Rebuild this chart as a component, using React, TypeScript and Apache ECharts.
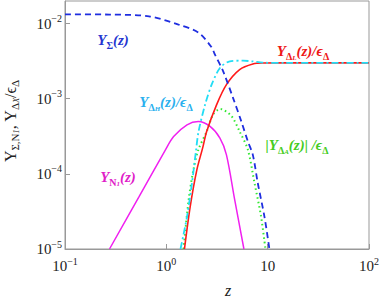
import React, { useEffect, useRef } from "react";
import * as echarts from "echarts";

// ---- data ----
const zSigma = [0.1, 0.275, 0.675, 1.32, 2.07, 2.78, 3.02, 3.64, 4.56, 5.5, 6.38, 7.14, 7.98, 9.29, 10.4];
const ySigma = [0.0133, 0.0132, 0.0125, 0.0097, 0.0076, 0.0049, 0.00386, 0.00231, 0.00102, 0.000497, 0.00027, 0.000179, 0.000076, 0.000027, 0.00001];

const zDeltaL = [1.51, 1.72, 2.0, 2.28, 2.5, 3.13, 3.92, 5.29, 7.14, 8.94, 15, 100];
const yDeltaL = [0.00001, 0.0000366, 0.000113, 0.00022, 0.000366, 0.00083, 0.00154, 0.00244, 0.0029, 0.00299, 0.003, 0.003];

const zDeltaH = [1.38, 1.6, 1.79, 1.95, 2.08, 2.41, 2.8, 3.38, 4.23, 5.7, 7.14, 8.94, 15, 100];
const yDeltaH = [0.00001, 0.000027, 0.000075, 0.00019, 0.000366, 0.00083, 0.00154, 0.00257, 0.00314, 0.00321, 0.00314, 0.00302, 0.003, 0.003];

const zDeltaA = [1.48, 1.66, 1.85, 2.07, 2.5, 2.9, 3.4, 4.38, 5.29, 6.38, 7.41, 8.61, 9.5];
const yDeltaA = [0.00001, 0.000045, 0.000113, 0.000209, 0.000366, 0.00062, 0.00073, 0.00059, 0.000366, 0.000209, 0.000076, 0.000027, 0.00001];

const zN1 = [0.275, 0.54, 0.98, 1.18, 1.6, 2.07, 2.7, 3.38, 3.92, 4.73, 5.83];
const yN1 = [0.00001, 0.00005, 0.000209, 0.000314, 0.00045, 0.000497, 0.000428, 0.000299, 0.000179, 0.000045, 0.00001];

const xMin = 0.1;
const xMax = 100;
const yMin = 0.00001;
const yMax = 0.02;

const zip = (a: number[], b: number[]) => a.map((v, i) => [v, b[i]]);

const SERIF = '"Liberation Serif", "DejaVu Serif", "Times New Roman", serif';

const expLabel = (v: number) => {
  const e = Math.round(Math.log10(v));
  if (e === 1) return "{b|10}";
  const s = e < 0 ? "\u2212" + -e : String(e);
  return "{b|10}{e|" + s + "}";
};

const tickRich = {
  b: { fontSize: 15, lineHeight: 20, fontFamily: SERIF, color: "#222", verticalAlign: "middle" },
  e: { fontSize: 10, lineHeight: 10, fontFamily: SERIF, color: "#222", verticalAlign: "top" },
};

const labelRich = (color: string) => ({
  m: { fontSize: 15, lineHeight: 20, fontFamily: SERIF, fontStyle: "italic", fontWeight: "bold", fill: color, verticalAlign: "middle" },
  g: { fontSize: 10, lineHeight: 10, fontFamily: SERIF, fontWeight: "bold", fill: color, verticalAlign: "bottom" },
  ss: { fontSize: 7, lineHeight: 6, fontFamily: SERIF, fontStyle: "italic", fontWeight: "bold", fill: color, verticalAlign: "bottom" },
});

const makeLabel = (x: number, y: number, text: string, color: string) => ({
  type: "text",
  x,
  y,
  z: 100,
  style: {
    text,
    align: "center",
    verticalAlign: "middle",
    textAlign: "center",
    textVerticalAlign: "middle",
    fill: color,
    rich: labelRich(color),
  },
});

export default function App() {
  const ref = useRef<HTMLDivElement>(null);
  useEffect(() => {
    if (!ref.current) return;
    const chart = echarts.init(ref.current, undefined, { renderer: "svg" });
    const axisGray = "#999";
    const option: any = {
      animation: false,
      backgroundColor: "#fff",
      grid: {
        left: 65,
        right: 10,
        top: 1,
        bottom: 51,
        show: true,
        borderColor: axisGray,
        borderWidth: 1,
      },
      xAxis: {
        type: "log",
        logBase: 10,
        min: xMin,
        max: xMax,
        axisLine: { show: true, lineStyle: { color: axisGray } },
        axisTick: { show: true, inside: true, length: 5, lineStyle: { color: axisGray } },
        minorTick: { show: false },
        splitLine: { show: false },
        axisLabel: { margin: 7, formatter: expLabel, rich: tickRich },
      },
      yAxis: {
        type: "log",
        logBase: 10,
        min: yMin,
        max: yMax,
        axisLine: { show: true, lineStyle: { color: axisGray } },
        axisTick: { show: true, inside: true, length: 5, lineStyle: { color: axisGray } },
        splitLine: { show: false },
        axisLabel: { margin: 3, formatter: expLabel, rich: tickRich, showMaxLabel: false },
      },
      series: [
        {
          name: "YN1",
          type: "line",
          data: zip(zN1, yN1),
          showSymbol: false,
          smooth: 0.3,
          lineStyle: { color: "#f020f0", width: 1.5 },
        },
        {
          name: "YDeltaA",
          type: "line",
          data: zip(zDeltaA, yDeltaA),
          showSymbol: false,
          smooth: 0.3,
          lineStyle: { color: "#33e833", width: 2, type: [1.5, 3] },
        },
        {
          name: "YDeltaL",
          type: "line",
          data: zip(zDeltaL, yDeltaL),
          showSymbol: false,
          smooth: 0.3,
          lineStyle: { color: "#ff1a1a", width: 1.6 },
        },
        {
          name: "YDeltaH",
          type: "line",
          data: zip(zDeltaH, yDeltaH),
          showSymbol: false,
          smooth: 0.3,
          lineStyle: { color: "#22ddf5", width: 1.8, type: [7, 3, 2, 3] },
        },
        {
          name: "YSigma",
          type: "line",
          data: zip(zSigma, ySigma),
          showSymbol: false,
          smooth: 0.3,
          lineStyle: { color: "#1f2ee0", width: 1.8, type: [6, 4] },
        },
      ],
      graphic: [
        makeLabel(113, 40, "{m|Y}{g|Σ}{m|(z)}", "#2436d0"),
        makeLabel(166, 102, "{m|Y}{g|Δ}{ss|H}{m|(z)/ϵ}{g|Δ}", "#2ab0ee"),
        makeLabel(303, 51, "{m|Y}{g|Δ}{ss|L}{m|(z)/ϵ}{g|Δ}", "#ee1515"),
        makeLabel(297, 145, "{m||Y}{g|Δ}{ss|A}{m|(z)| /ϵ}{g|Δ}", "#44cc22"),
        makeLabel(118, 177, "{m|Y}{g|N}{ss|1}{m|(z)}", "#e020c8"),
        {
          type: "text",
          x: 10,
          y: 121,
          rotation: Math.PI / 2,
          style: {
            text: "{m|Y}{g|Σ,N}{ss|1}{m|, Y}{g|Δ}{ss|X}{m|/ϵ}{g|Δ}",
            align: "center",
            verticalAlign: "middle",
            textAlign: "center",
            textVerticalAlign: "middle",
            fill: "#222",
            rich: {
              m: { fontSize: 16, lineHeight: 20, fontFamily: SERIF, fill: "#222", verticalAlign: "middle" },
              g: { fontSize: 11, lineHeight: 10, fontFamily: SERIF, fill: "#222", verticalAlign: "bottom" },
              ss: { fontSize: 8, lineHeight: 6, fontFamily: SERIF, fontStyle: "italic", fill: "#222", verticalAlign: "bottom" },
            },
          },
        },
        {
          type: "text",
          x: 228,
          y: 290,
          style: {
            text: "z",
            align: "center",
            verticalAlign: "middle",
            textAlign: "center",
            textVerticalAlign: "middle",
            fill: "#222",
            font: 'italic 16px "Liberation Serif", "DejaVu Serif", serif',
          },
        },
      ],
    };
    chart.setOption(option);
    return () => chart.dispose();
  }, []);
  return (
    <div
      ref={ref}
      style={{ position: "absolute", left: 0, top: 0, width: 382, height: 300, background: "#fff" }}
    />
  );
}
